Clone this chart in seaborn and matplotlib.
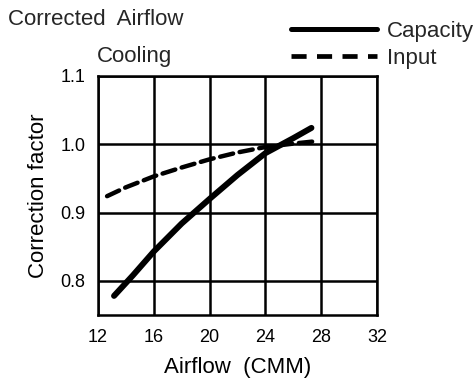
import matplotlib
matplotlib.use("Agg")
import matplotlib.pyplot as plt
from matplotlib.lines import Line2D
import seaborn as sns
import pandas as pd

# Cooling correction factors versus airflow
capacity_airflow = [13.15, 14.5, 16, 18, 20, 22, 24, 26, 27.3]
capacity_factor = [0.778, 0.808, 0.843, 0.884, 0.920, 0.955, 0.987, 1.009, 1.024]
input_airflow = [12.65, 14, 16, 18, 20, 22, 24, 26, 27.4]
input_factor = [0.924, 0.937, 0.953, 0.966, 0.978, 0.988, 0.996, 1.001, 1.004]

x_ticks = [12, 16, 20, 24, 28, 32]
y_ticks = [0.8, 0.9, 1.0, 1.1]

df = pd.concat([
    pd.DataFrame({"Airflow": capacity_airflow, "Factor": capacity_factor, "Series": "Capacity"}),
    pd.DataFrame({"Airflow": input_airflow, "Factor": input_factor, "Series": "Input"}),
])

sns.set_theme(style="white")
plt.rcParams["font.family"] = ["Liberation Sans", "DejaVu Sans"]

fig = plt.figure(figsize=(4.76, 3.80), dpi=100)
ax = fig.add_axes([98 / 476, 1 - 315 / 380, 279 / 476, 239 / 380])

sns.lineplot(data=df[df.Series == "Capacity"], x="Airflow", y="Factor",
             color="black", linewidth=4.3, ax=ax, legend=False, sort=False,
             solid_capstyle="round")
sns.lineplot(data=df[df.Series == "Input"], x="Airflow", y="Factor",
             color="black", linewidth=3.2, ax=ax, legend=False, sort=False,
             linestyle=(0, (3.0, 1.5)), dash_capstyle="round")

ax.set_xlim(12, 32)
ax.set_ylim(0.75, 1.1)
ax.set_xticks(x_ticks)
ax.set_xticklabels([str(v) for v in x_ticks])
ax.set_yticks(y_ticks)
ax.set_yticklabels([f"{v:.1f}" for v in y_ticks])
ax.grid(True, color="black", linewidth=1.8)
ax.set_axisbelow(True)
for s in ax.spines.values():
    s.set_color("black")
    s.set_linewidth(1.8)
ax.tick_params(axis="x", length=0, labelsize=13, colors="black", pad=10)
ax.tick_params(axis="y", length=0, labelsize=13, colors="black", pad=9)

ax.set_xlabel("Airflow  (CMM)", fontsize=16, color="black", labelpad=8)
ax.set_ylabel("Correction factor", fontsize=16, color="black", labelpad=8)

fig.text(8 / 476, 1 - 25 / 380, "Corrected  Airflow", fontsize=16,
         va="baseline", ha="left")
fig.text(97 / 476, 1 - 62 / 380, "Cooling", fontsize=16,
         va="baseline", ha="left")

handles = [
    Line2D([], [], color="black", linewidth=3.6),
    Line2D([], [], color="black", linewidth=3.4, linestyle=(0, (3.2, 2.2))),
]
fig.legend(handles, ["Capacity", "Input"], loc="upper left",
           bbox_to_anchor=(291 / 476, 1 - 21 / 380), frameon=False,
           fontsize=16, handlelength=3.87, handletextpad=0.45,
           labelspacing=0.25, borderpad=0, borderaxespad=0)

fig.savefig("out.png", dpi=100)
